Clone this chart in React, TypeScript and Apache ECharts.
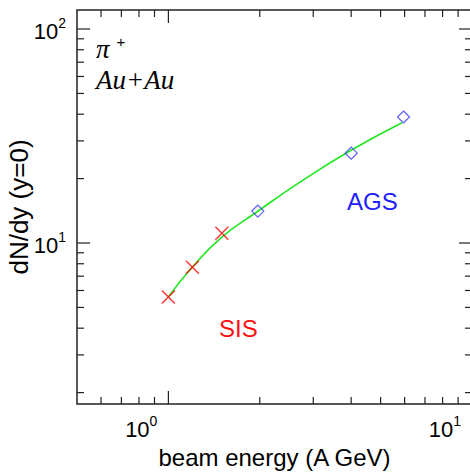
import React, { useEffect, useRef } from "react";
import * as echarts from "echarts";

const sisEnergy = [1.0, 1.2, 1.5];
const sisYield = [5.6, 7.7, 11.1];
const agsEnergy = [1.97, 4.0, 5.95];
const agsYield = [14.1, 26.3, 38.8];
const fitEnergy = [1.0, 1.19, 1.5, 1.96, 2.72, 3.97, 5.88];
const fitYield = [5.6, 7.62, 10.65, 14.0, 19.3, 27.0, 36.5];

const xTickValues = [0.6, 0.7, 0.8, 0.9, 1, 2, 3, 4, 5, 6, 7, 8, 9, 10];
const yTickValues = [2, 3, 4, 5, 6, 7, 8, 9, 10, 20, 30, 40, 50, 60, 70, 80, 90, 100];
const X_MIN = 0.5;
const X_MAX = 10;
const Y_MIN = 1.769;
const Y_MAX = 122.7;

const SANS = "'Liberation Sans', Arial, Helvetica, sans-serif";
const SERIF = "'Liberation Serif', 'Times New Roman', serif";
const AXIS_COLOR = "#222";

const isPow10 = (v: number) => Math.abs(Math.log10(v) - Math.round(Math.log10(v))) < 1e-6;
const powLabel = (v: number) => (isPow10(v) ? `{b|10}{s|${Math.round(Math.log10(v))}}` : "");

const labelRich = {
  b: { fontSize: 22, fontFamily: SANS, color: "#000", lineHeight: 26, verticalAlign: "bottom" },
  s: { fontSize: 14, fontFamily: SANS, color: "#000", lineHeight: 14, verticalAlign: "top" },
};

export default function App() {
  const ref = useRef<HTMLDivElement>(null);
  useEffect(() => {
    if (!ref.current) return;
    const chart = echarts.init(ref.current, undefined, { renderer: "svg" });
    const tickStyle = { stroke: AXIS_COLOR, lineWidth: 1.2 };
    chart.setOption({
      animation: false,
      backgroundColor: "#fff",
      grid: {
        left: 77,
        top: 10,
        width: 395,
        height: 394,
        outerBoundsMode: "none",
        containLabel: false,
        show: true,
        borderColor: AXIS_COLOR,
        borderWidth: 1.5,
        backgroundColor: "transparent",
      },
      xAxis: {
        type: "log",
        logBase: 10,
        min: X_MIN,
        max: X_MAX,
        name: "beam energy (A GeV)",
        nameLocation: "middle",
        nameGap: 41,
        nameMoveOverlap: false,
        nameTextStyle: { fontSize: 24, fontFamily: SANS, color: "#000" },
        axisLine: { show: false },
        axisTick: { show: false },
        splitLine: { show: false },
        axisLabel: {
          formatter: powLabel,
          rich: labelRich,
          align: "right",
          padding: [0, 11, 0, 0],
          margin: 10,
        },
      },
      yAxis: {
        type: "log",
        logBase: 10,
        min: Y_MIN,
        max: Y_MAX,
        name: "dN/dy (y=0)",
        nameLocation: "middle",
        nameGap: 43,
        nameMoveOverlap: false,
        nameTextStyle: { fontSize: 26, fontFamily: SANS, color: "#000", lineHeight: 30 },
        axisLine: { show: false },
        axisTick: { show: false },
        splitLine: { show: false },
        axisLabel: {
          formatter: powLabel,
          rich: labelRich,
          margin: 11,
        },
      },
      graphic: [
        {
          type: "text",
          style: {
            text: "{p|π}{s|+}",
            x: 96,
            y: 48,
            textVerticalAlign: "middle",
            rich: {
              p: { fontSize: 27, fontFamily: SERIF, fontStyle: "italic", fill: "#000", lineHeight: 28, verticalAlign: "bottom" },
              s: { fontSize: 15, fontFamily: SANS, fill: "#000", lineHeight: 15, verticalAlign: "top", padding: [0, 0, 0, 7] },
            },
          },
        },
        {
          type: "text",
          style: {
            text: "Au+Au",
            x: 96,
            y: 80,
            textVerticalAlign: "middle",
            font: `italic 27px ${SERIF}`,
            fill: "#000",
          },
        },
        {
          type: "text",
          style: {
            text: "AGS",
            x: 347,
            y: 201.5,
            textVerticalAlign: "middle",
            font: `24px ${SANS}`,
            fill: "#2020ff",
          },
        },
        {
          type: "text",
          style: {
            text: "SIS",
            x: 219,
            y: 328.5,
            textVerticalAlign: "middle",
            font: `24px ${SANS}`,
            fill: "#ff1010",
          },
        },
      ],
      series: [
        {
          type: "custom",
          silent: true,
          renderItem: (params: any, api: any) => {
            const v = api.value(0);
            const major = api.value(2);
            const p = api.coord([v, Y_MIN]);
            const cs = params.coordSys;
            const len = major ? 13 : 7;
            const bottom = cs.y + cs.height;
            return {
              type: "group",
              children: [
                { type: "line", shape: { x1: p[0], y1: bottom, x2: p[0], y2: bottom - len }, style: tickStyle },
                { type: "line", shape: { x1: p[0], y1: cs.y, x2: p[0], y2: cs.y + len }, style: tickStyle },
              ],
            };
          },
          encode: { x: 0, y: 1 },
          data: xTickValues.map((v) => [v, Y_MIN, isPow10(v) ? 1 : 0]),
          z: 1,
        },
        {
          type: "custom",
          silent: true,
          renderItem: (params: any, api: any) => {
            const v = api.value(1);
            const major = api.value(2);
            const p = api.coord([X_MIN, v]);
            const cs = params.coordSys;
            const len = major ? 13 : 7;
            const right = cs.x + cs.width;
            return {
              type: "group",
              children: [
                { type: "line", shape: { x1: cs.x, y1: p[1], x2: cs.x + len, y2: p[1] }, style: tickStyle },
                { type: "line", shape: { x1: right, y1: p[1], x2: right - len, y2: p[1] }, style: tickStyle },
              ],
            };
          },
          encode: { x: 0, y: 1 },
          data: yTickValues.map((v) => [X_MIN, v, isPow10(v) ? 1 : 0]),
          z: 1,
        },
        {
          type: "line",
          data: fitEnergy.map((e, i) => [e, fitYield[i]]),
          smooth: 0.5,
          showSymbol: false,
          symbol: "none",
          lineStyle: { color: "#22e622", width: 1.6 },
          z: 2,
        },
        {
          type: "scatter",
          data: sisEnergy.map((e, i) => [e, sisYield[i]]),
          symbol: "path://M0 0L10 10M10 0L0 10",
          symbolSize: 13,
          itemStyle: { color: "none", borderColor: "#ff0000", borderWidth: 1.4 },
          z: 3,
        },
        {
          type: "scatter",
          data: agsEnergy.map((e, i) => [e, agsYield[i]]),
          symbol: "path://M5 0L10 5L5 10L0 5Z",
          symbolSize: 12,
          itemStyle: { color: "none", borderColor: "#3535ff", borderWidth: 1.2 },
          z: 3,
        },
      ],
    });
    return () => chart.dispose();
  }, []);
  return (
    <div
      ref={ref}
      style={{ position: "fixed", left: 0, top: 0, width: 470, height: 474, background: "#fff" }}
    />
  );
}
